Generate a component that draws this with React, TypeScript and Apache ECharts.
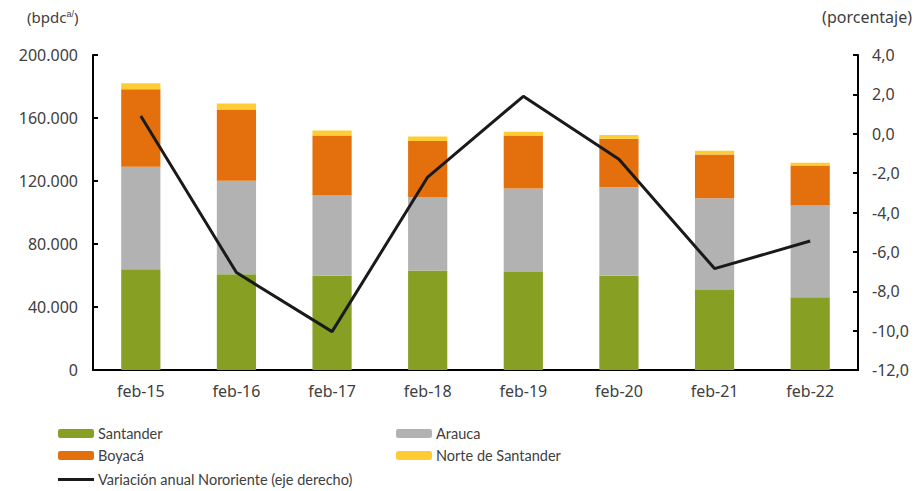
import React, { useEffect, useRef } from "react";
import * as echarts from "echarts";

const categories = ["feb-15", "feb-16", "feb-17", "feb-18", "feb-19", "feb-20", "feb-21", "feb-22"];
const santander = [63900, 60800, 59900, 63100, 62200, 59900, 50800, 46200];
const arauca = [65200, 59300, 50900, 46800, 53000, 56100, 58300, 58200];
const boyaca = [49200, 45300, 38100, 35500, 33700, 30800, 27800, 25500];
const norteSantander = [3800, 3800, 3200, 2900, 2400, 2400, 2300, 1700];
const variacion = [0.9, -7.05, -10.05, -2.2, 1.9, -1.3, -6.85, -5.45];
const leftTicks = { min: 0, max: 200000, interval: 40000 };
const rightTicks = { min: -12, max: 4, interval: 2 };

const FONT = "'Noto Sans', 'Open Sans', sans-serif";
const NARROW = "Lato, 'Noto Sans', sans-serif";
const TXT = "#404040";
const LINE_NAME = "Variación anual Nororiente (eje derecho)";

export default function App() {
  const ref = useRef<HTMLDivElement>(null);
  useEffect(() => {
    document.body.style.margin = "0";
    const chart = echarts.init(ref.current!, null, { renderer: "svg" });
    const fmtLeft = (v: number) => (v === 0 ? "0" : (v / 1000).toFixed(3).replace(/\B(?=(\d{3})+(?!\d))/g, "."));
    const fmtRight = (v: number) => v.toFixed(1).replace(".", ",");
    const legendCommon = {
      orient: "horizontal" as const,
      itemWidth: 36,
      itemHeight: 9,
      itemGap: 10,
      padding: 0,
      textStyle: { fontFamily: NARROW, fontSize: 14.5, color: TXT, padding: [0, 0, 0, -1] },
      selectedMode: false,
    };
    chart.setOption({
      animation: false,
      textStyle: { fontFamily: FONT },
      grid: { left: 93, right: 58, top: 55, bottom: 121 },
      legend: [
        { ...legendCommon, left: 58, top: 426, data: ["Santander"] },
        { ...legendCommon, left: 396, top: 426, data: ["Arauca"] },
        { ...legendCommon, left: 58, top: 448, data: ["Boyacá"] },
        { ...legendCommon, left: 396, top: 448, data: ["Norte de Santander"] },
        {
          ...legendCommon,
          left: 58,
          top: 472,
          itemHeight: 3,
          data: [{ name: LINE_NAME, icon: "rect", itemStyle: { color: "#1A1A1A" } }],
        },
      ],
      graphic: [
        {
          type: "text",
          left: 27,
          top: 9,
          style: {
            text: "(bpdc{sup|a/})",
            font: `15px ${FONT}`,
            fill: TXT,
            rich: { sup: { fontSize: 9, fill: TXT, verticalAlign: "top", padding: [0, 0, 6, 0] } },
          },
        },
        {
          type: "text",
          right: 4,
          top: 9,
          style: { text: "(porcentaje)", font: `16px ${FONT}`, fill: TXT },
        },
      ],
      xAxis: {
        type: "category",
        data: categories,
        axisLine: { lineStyle: { color: "#000", width: 2 } },
        axisTick: { inside: true, length: 5, lineStyle: { color: "#000", width: 2 } },
        axisLabel: { color: TXT, fontSize: 16, fontFamily: FONT, margin: 13 },
      },
      yAxis: [
        {
          type: "value",
          ...leftTicks,
          splitLine: { show: false },
          axisLine: { show: true, lineStyle: { color: "#000", width: 2 } },
          axisTick: { show: true, inside: true, length: 5, lineStyle: { color: "#000", width: 2 } },
          axisLabel: { color: TXT, fontSize: 16, fontFamily: FONT, margin: 15, formatter: fmtLeft },
        },
        {
          type: "value",
          ...rightTicks,
          position: "right",
          splitLine: { show: false },
          axisLine: { show: true, lineStyle: { color: "#000", width: 2 } },
          axisTick: { show: true, inside: true, length: 5, lineStyle: { color: "#000", width: 2 } },
          axisLabel: { color: TXT, fontSize: 16, fontFamily: FONT, margin: 14, formatter: fmtRight },
        },
      ],
      series: [
        { name: "Santander", type: "bar", stack: "t", barWidth: "41%", data: santander, itemStyle: { color: "#87A024" } },
        { name: "Arauca", type: "bar", stack: "t", data: arauca, itemStyle: { color: "#B2B2B2" } },
        { name: "Boyacá", type: "bar", stack: "t", data: boyaca, itemStyle: { color: "#E3700C" } },
        { name: "Norte de Santander", type: "bar", stack: "t", data: norteSantander, itemStyle: { color: "#FFCC33" } },
        {
          name: LINE_NAME,
          type: "line",
          yAxisIndex: 1,
          data: variacion,
          symbol: "none",
          lineStyle: { color: "#1A1A1A", width: 3 },
          itemStyle: { color: "#1A1A1A" },
          z: 5,
        },
      ],
    });
    return () => chart.dispose();
  }, []);
  return <div ref={ref} style={{ width: 916, height: 491 }} />;
}
